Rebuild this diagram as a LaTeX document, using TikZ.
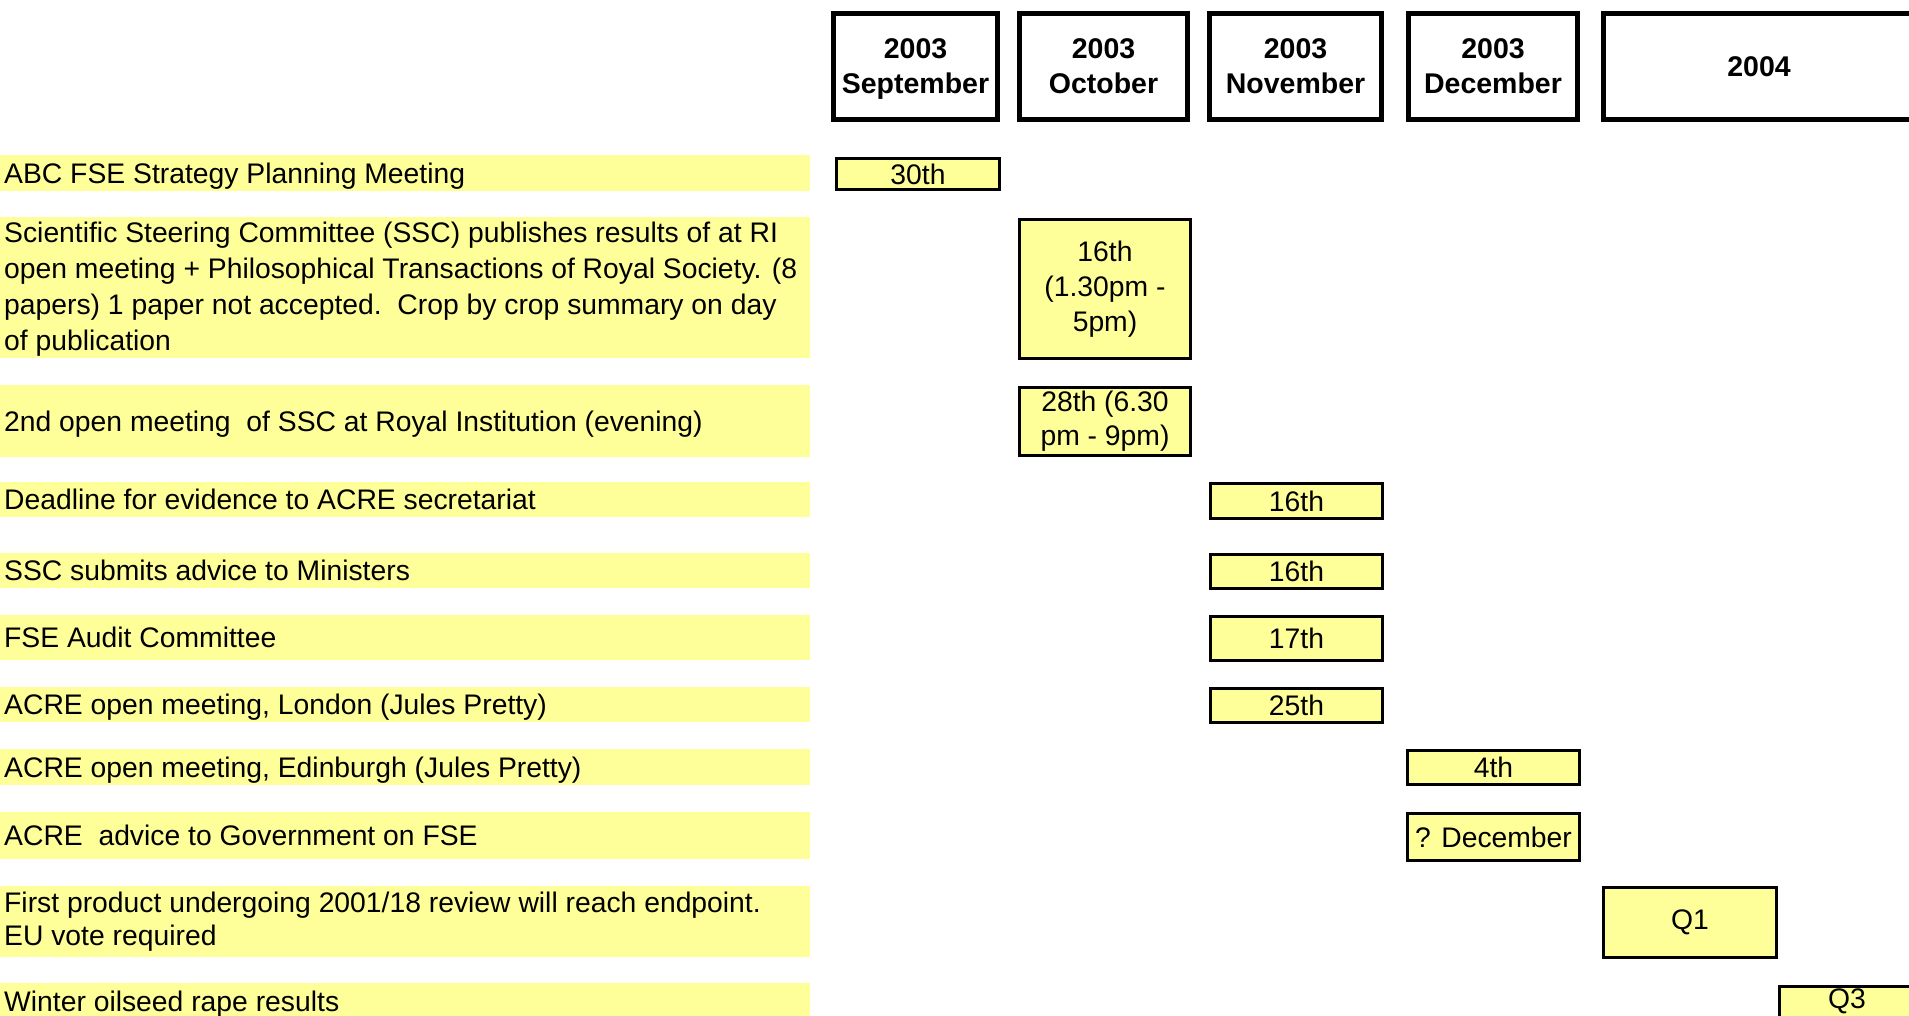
\documentclass[tikz,border=0pt]{standalone}
\usepackage{fontspec}
\setmainfont{Liberation Sans}
\definecolor{paleyel}{HTML}{FFFF99}
\tikzset{
  band/.style={fill=paleyel, draw=none, anchor=north west, inner sep=0pt, minimum width=810pt},
  itemtext/.style={anchor=base west, align=left, inner sep=0pt, font=\fontsize{28.3}{34}\selectfont},
  itemmulti/.style={anchor=west, align=left, inner sep=0pt},
  evbox/.style={draw=black, line width=3pt, fill=paleyel, align=center, inner sep=0pt, font=\fontsize{28.3}{34}\selectfont},
  hdbox/.style={draw=black, line width=5pt, fill=white, align=center, inner sep=0pt, text depth=0pt, minimum height=106pt, font=\bfseries\fontsize{28.5}{35}\selectfont},
}
\begin{document}
\begin{tikzpicture}[x=1pt,y=-1pt]
\clip (0,0) rectangle (1909,1016);
\fill[white] (0,0) rectangle (1909,1016);

% header
\node[hdbox, minimum width=164pt] (hsep) at (915.5,66.5) {2003\\September};
\node[hdbox, minimum width=168pt] (hoct) at (1103.5,66.5) {2003\\October};
\node[hdbox, minimum width=172pt] (hnov) at (1295.5,66.5) {2003\\November};
\node[hdbox, minimum width=169pt] (hdec) at (1493,66.5) {2003\\December};
\node[hdbox, minimum width=312pt] (h04) at (1759,66.5) {2004};

% left bands
\node[band, minimum height=36pt] (b1) at (0,155) {};
\node[band, minimum height=141pt] (b2) at (0,217) {};
\node[band, minimum height=72pt] (b3) at (0,385) {};
\node[band, minimum height=35pt] (b4) at (0,482) {};
\node[band, minimum height=35pt] (b5) at (0,553) {};
\node[band, minimum height=45pt] (b6) at (0,615) {};
\node[band, minimum height=35pt] (b7) at (0,687) {};
\node[band, minimum height=36pt] (b8) at (0,749) {};
\node[band, minimum height=47pt] (b9) at (0,812) {};
\node[band, minimum height=71pt] (b10) at (0,886) {};
\node[band, minimum height=60pt] (b11) at (0,983) {};

% item texts
\node[itemtext] (t1) at (4,183.5) {ABC FSE Strategy Planning Meeting};
\node[itemmulti, font=\fontsize{28.3}{36}\selectfont] (t2) at (4,289) {Scientific Steering Committee (SSC) publishes results of at RI\\open meeting + Philosophical Transactions of Royal Society. (8\\papers) 1 paper not accepted.\ \ Crop by crop summary on day\\of publication};
\node[itemtext] (t3) at (4,431.5) {2nd open meeting\ \ of SSC at Royal Institution (evening)};
\node[itemtext] (t4) at (4,509.5) {Deadline for evidence to ACRE secretariat};
\node[itemtext] (t5) at (4,580.5) {SSC submits advice to Ministers};
\node[itemtext] (t6) at (4,647.5) {FSE Audit Committee};
\node[itemtext] (t7) at (4,714.5) {ACRE open meeting, London (Jules Pretty)};
\node[itemtext] (t8) at (4,777) {ACRE open meeting, Edinburgh (Jules Pretty)};
\node[itemtext] (t9) at (4,845.5) {ACRE\ \ advice to Government on FSE};
\node[itemmulti, font=\fontsize{28.3}{33}\selectfont] (t10) at (4,922) {First product undergoing 2001/18 review will reach endpoint.\\EU vote required};
\node[itemtext] (t11) at (4,1011) {Winter oilseed rape results};

% event boxes
\node[evbox, minimum width=163pt, minimum height=31pt] (e1) at (918,174) {30th};
\node[evbox, minimum width=171pt, minimum height=139pt, font=\fontsize{28.3}{35}\selectfont] (e2) at (1105,289) {16th\\(1.30pm -\\5pm)};
\node[evbox, minimum width=171pt, minimum height=68pt] (e3) at (1105,421.5) {28th (6.30\\pm - 9pm)};
\node[evbox, minimum width=172pt, minimum height=34.5pt] (e4) at (1296.5,501) {16th};
\node[evbox, minimum width=172pt, minimum height=34pt] (e5) at (1296.5,571.5) {16th};
\node[evbox, minimum width=172pt, minimum height=44pt] (e6) at (1296.5,638.5) {17th};
\node[evbox, minimum width=172pt, minimum height=34pt] (e7) at (1296.5,705.5) {25th};
\node[evbox, minimum width=172pt, minimum height=34pt] (e8) at (1493.5,767.5) {4th};
\node[evbox, minimum width=172pt, minimum height=47.5pt] (e9) at (1493.5,837) {? December};
\node[evbox, minimum width=173pt, minimum height=70pt] (e10) at (1690,922.5) {Q1};
\node[evbox, minimum width=135pt, minimum height=100pt, anchor=north] (e11box) at (1847,984.5) {};
\node[inner sep=0pt, font=\fontsize{28.3}{34}\selectfont] (e11) at (1847,1001) {Q3};
\end{tikzpicture}
\end{document}
